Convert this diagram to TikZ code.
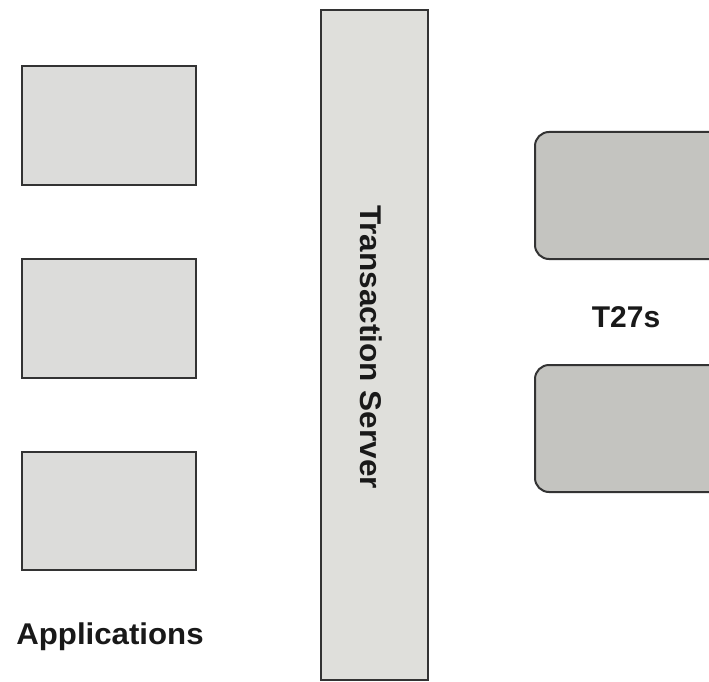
\documentclass[tikz,border=0pt]{standalone}
\usepackage{fontspec}
\setmainfont{Liberation Sans}
\definecolor{appfill}{HTML}{DCDCDA}
\definecolor{srvfill}{HTML}{DFDFDB}
\definecolor{tfill}{HTML}{C4C4C0}
\definecolor{edge}{HTML}{333333}
\tikzset{
  appbox/.style={draw=edge, line width=2pt, fill=appfill},
  srvbox/.style={draw=edge, line width=2pt, fill=srvfill},
  tbox/.style={draw=edge, line width=2pt, fill=tfill, rounded corners=14pt},
  lbl/.style={font=\bfseries\fontsize{30}{36}\selectfont, text=black!90, inner sep=0pt}
}
\begin{document}
\begin{tikzpicture}[x=1pt,y=-1pt]
\clip (0,0) rectangle (709,682);
\useasboundingbox (0,0) rectangle (709,682);
\fill[white] (0,0) rectangle (709,682);
% applications
\draw[appbox] (22,66) rectangle (196,185) coordinate (a1);
\draw[appbox] (22,259) rectangle (196,378) coordinate (a2);
\draw[appbox] (22,452) rectangle (196,570) coordinate (a3);
\node[lbl, xscale=1.04] (applbl) at (110,637) {Applications};
% server
\draw[srvbox] (321,10) rectangle (428,680) coordinate (srv);
\node[lbl, rotate=-90, xscale=1.05] (srvlbl) at (371,347) {Transaction Server};
% T27s
\draw[tbox] (535,132) rectangle (740,259) coordinate (t1);
\draw[tbox] (535,365) rectangle (740,492) coordinate (t2);
\node[lbl] (tlbl) at (626,317) {T27s};
\end{tikzpicture}
\end{document}
